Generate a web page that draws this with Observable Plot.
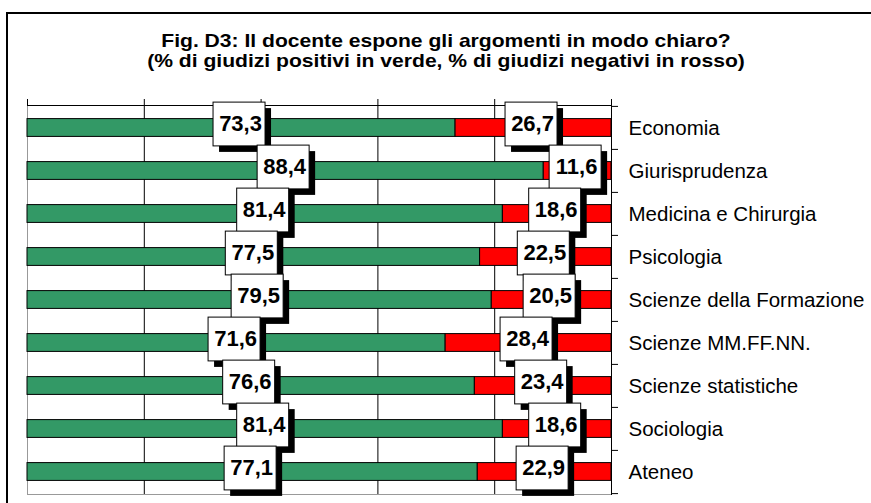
<!DOCTYPE html>
<html>
<head>
<meta charset="utf-8">
<script src="https://cdn.jsdelivr.net/npm/d3@7"></script>
<script src="https://cdn.jsdelivr.net/npm/@observablehq/plot@0.6"></script>
<style>
  html, body { margin: 0; padding: 0; width: 871px; height: 503px; overflow: hidden; background: white; font-family: Arial, "Liberation Sans", sans-serif; }
  #frame { position: absolute; left: 6px; top: 12px; width: 900px; height: 520px; border: 2px solid black; box-sizing: border-box; z-index: 2; pointer-events: none; }
  #title { position: absolute; left: 7px; width: 878px; top: 31px; text-align: center; font-weight: bold; font-size: 19px; line-height: 20px; color: black; transform: scaleX(1.11); transform-origin: 439px 0; }
  #chart { position: absolute; left: 0; top: 80px; }
</style>
</head>
<body>
<div id="frame"></div>
<div id="title">Fig. D3: Il docente espone gli argomenti in modo chiaro?<br>(% di giudizi positivi in verde, % di giudizi negativi in rosso)</div>
<div id="chart"></div>
<script>
const categories = ["Economia", "Giurisprudenza", "Medicina e Chirurgia", "Psicologia", "Scienze della Formazione", "Scienze MM.FF.NN.", "Scienze statistiche", "Sociologia", "Ateneo"];
const positive = [73.3, 88.4, 81.4, 77.5, 79.5, 71.6, 76.6, 81.4, 77.1];
const negative = [26.7, 11.6, 18.6, 22.5, 20.5, 28.4, 23.4, 18.6, 22.9];
const xTicks = [0, 20, 40, 60, 80, 100];

const rows = categories.map((c, i) => ({cat: c, pos: positive[i], neg: negative[i]}));
const labels = [];
rows.forEach(r => {
  labels.push({cat: r.cat, mid: r.pos / 2, value: r.pos});
  labels.push({cat: r.cat, mid: r.pos + r.neg / 2, value: r.neg});
});
const fmt = v => v.toFixed(1).replace(".", ",");
const GREEN = "#339966", RED = "#ff0000";
const barInset = 12.6;

const chart = Plot.plot({
  width: 871,
  height: 423,
  marginLeft: 27,
  marginRight: 260,
  marginTop: 25,
  marginBottom: 9,
  style: {background: "transparent", fontFamily: "Arial, 'Liberation Sans', sans-serif"},
  x: {domain: [0, 100], axis: null},
  y: {domain: categories, axis: null, padding: 0},
  marks: [
    Plot.frame({anchor: "left", stroke: "#999"}),
    Plot.frame({anchor: "bottom", stroke: "#999"}),
    Plot.ruleX(xTicks.filter(t => t > 0 && t < 100), {stroke: "black", strokeWidth: 1}),
    Plot.barX(rows, {y: "cat", x1: 0, x2: "pos", fill: GREEN, stroke: "black", strokeWidth: 1, insetTop: barInset, insetBottom: barInset}),
    Plot.barX(rows, {y: "cat", x1: "pos", x2: d => d.pos + d.neg, fill: RED, stroke: "black", strokeWidth: 1, insetTop: barInset, insetBottom: barInset}),
    Plot.frame({anchor: "top", stroke: "black"}),
    Plot.frame({anchor: "right", stroke: "black"}),
    Plot.axisX({anchor: "top", ticks: xTicks, tickSize: 7, tickFormat: () => "", stroke: "black"}),
    Plot.ruleY(categories, {y: d => d, x1: 100, x2: 100, insetRight: -7, dy: -21.6, stroke: "black"}),
    Plot.ruleY(categories.slice(-1), {y: d => d, x1: 100, x2: 100, insetRight: -7, dy: 21.6, stroke: "black"}),
    // label box shadows
    Plot.barX(labels, {y: "cat", x1: "mid", x2: "mid", insetLeft: -26, insetRight: -26, insetTop: -0.4, insetBottom: -0.4, dx: 4, dy: 2.5, fill: "black"}),
    // label boxes
    Plot.barX(labels, {y: "cat", x1: "mid", x2: "mid", insetLeft: -26, insetRight: -26, insetTop: -0.4, insetBottom: -0.4, dx: -2, dy: -3.5, fill: "white", stroke: "black", strokeWidth: 1}),
    Plot.text(labels, {y: "cat", x: "mid", text: d => fmt(d.value), fontSize: 22, fontWeight: "bold", fill: "black", dx: -1, dy: -4}),
    Plot.text(categories, {y: d => d, text: d => d, frameAnchor: "right", textAnchor: "start", dx: 17, fontSize: 20.5, fill: "black"})
  ]
});
document.getElementById("chart").appendChild(chart);
</script>
</body>
</html>
